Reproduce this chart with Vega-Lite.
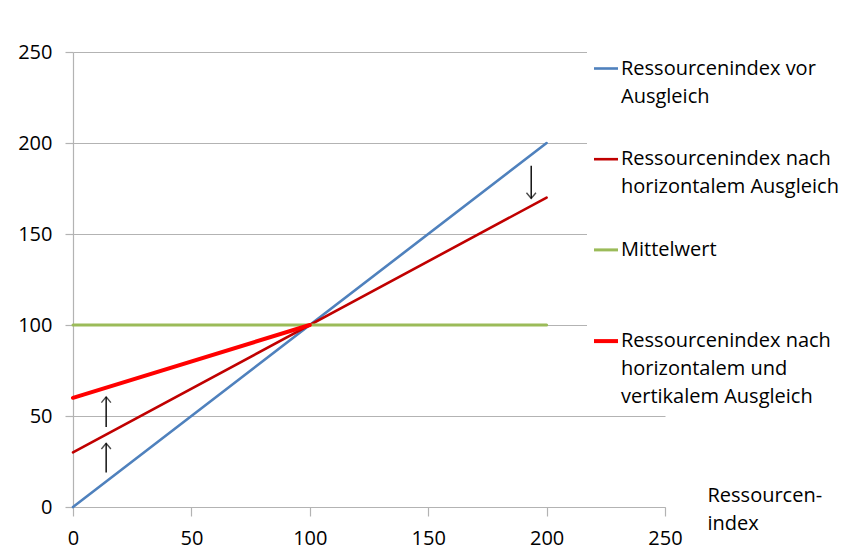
{
  "$schema": "https://vega.github.io/schema/vega-lite/v6.json",
  "width": 592,
  "height": 455,
  "autosize": {"type": "none"},
  "padding": {"left": 73, "top": 52, "right": 187, "bottom": 48},
  "background": "white",
  "config": {
    "view": {"stroke": null},
    "font": "Open Sans",
    "style": {"guide-label": {"lineHeight": 28}, "guide-title": {"lineHeight": 28}}
  },
  "datasets": {
    "linien": [
      {"serie": "Ressourcenindex vor Ausgleich", "x": 0, "y": 0},
      {"serie": "Ressourcenindex vor Ausgleich", "x": 200, "y": 200},
      {"serie": "Ressourcenindex nach horizontalem Ausgleich", "x": 0, "y": 30},
      {"serie": "Ressourcenindex nach horizontalem Ausgleich", "x": 200, "y": 170},
      {"serie": "Mittelwert", "x": 0, "y": 100},
      {"serie": "Mittelwert", "x": 200, "y": 100},
      {"serie": "Ressourcenindex nach horizontalem und vertikalem Ausgleich", "x": 0, "y": 60},
      {"serie": "Ressourcenindex nach horizontalem und vertikalem Ausgleich", "x": 100, "y": 100}
    ],
    "pfeile": [
      {"x": 14, "von": 19, "bis": 35, "richtung": "hoch"},
      {"x": 14, "von": 44, "bis": 60.5, "richtung": "hoch"},
      {"x": 193.5, "von": 187.5, "bis": 169.5, "richtung": "runter"}
    ]
  },
  "layer": [
    {
      "data": {"name": "linien"},
      "mark": {"type": "line", "strokeCap": "round"},
      "encoding": {
        "x": {
          "field": "x", "type": "quantitative",
          "scale": {"domain": [0, 250], "nice": false},
          "axis": {
            "values": [0, 50, 100, 150, 200, 250],
            "grid": false,
            "domainColor": "#b3b3b3", "domainWidth": 1.2,
            "tickColor": "#b3b3b3", "tickSize": 9, "tickWidth": 1.2,
            "labelFont": "Open Sans", "labelFontSize": 20, "labelColor": "black",
            "labelPadding": 12, "labelFlush": false, "labelOverlap": false,
            "title": ["Ressourcen-", "index"],
            "titleFont": "Open Sans", "titleFontSize": 20, "titleFontWeight": "normal",
            "titleColor": "black", "titleAlign": "left", "titleBaseline": "alphabetic",
            "titleX": 634, "titleY": -6, "titleAngle": 0
          }
        },
        "y": {
          "field": "y", "type": "quantitative",
          "scale": {"domain": [0, 250], "nice": false},
          "axis": {
            "values": [0, 50, 100, 150, 200, 250],
            "grid": true, "gridColor": "#b3b3b3", "gridWidth": 1.2,
            "domainColor": "#b3b3b3", "domainWidth": 1.2,
            "tickColor": "#b3b3b3", "tickSize": 8, "tickWidth": 1.2,
            "labelFont": "Open Sans", "labelFontSize": 20, "labelColor": "black",
            "labelPadding": 13, "labelFlush": false, "labelOverlap": false,
            "title": null
          }
        },
        "color": {
          "field": "serie", "type": "nominal",
          "scale": {
            "domain": [
              "Ressourcenindex vor Ausgleich",
              "Ressourcenindex nach horizontalem Ausgleich",
              "Mittelwert",
              "Ressourcenindex nach horizontalem und vertikalem Ausgleich"
            ],
            "range": ["#4F81BD", "#C00000", "#9BBB59", "#FF0000"]
          },
          "legend": {
            "title": null,
            "orient": "none",
            "legendX": 514,
            "legendY": -2,
            "padding": 5,
            "fillColor": "white",
            "strokeColor": null,
            "direction": "vertical",
            "columns": 1,
            "gridAlign": "all",
            "rowPadding": 10.7,
            "symbolType": "stroke",
            "symbolSize": 576,
            "labelOffset": 1,
            "labelFont": "Open Sans",
            "labelFontSize": 20,
            "labelColor": "black",
            "labelLimit": 0,
            "labelBaseline": "middle",
            "labelExpr": "datum.label == 'Ressourcenindex vor Ausgleich' ? ['Ressourcenindex vor', 'Ausgleich'] : datum.label == 'Ressourcenindex nach horizontalem Ausgleich' ? ['Ressourcenindex nach', 'horizontalem Ausgleich'] : datum.label == 'Mittelwert' ? 'Mittelwert' : ['Ressourcenindex nach', 'horizontalem und', 'vertikalem Ausgleich']"
          }
        },
        "strokeWidth": {
          "field": "serie", "type": "ordinal",
          "scale": {
            "type": "ordinal",
            "domain": [
              "Ressourcenindex vor Ausgleich",
              "Ressourcenindex nach horizontalem Ausgleich",
              "Mittelwert",
              "Ressourcenindex nach horizontalem und vertikalem Ausgleich"
            ],
            "range": [2.6, 2.6, 3, 4]
          },
          "legend": null
        },
        "order": {"field": "x", "type": "quantitative"}
      }
    },
    {
      "data": {"name": "pfeile"},
      "mark": {"type": "rule", "color": "black", "strokeWidth": 1.4},
      "encoding": {
        "x": {"field": "x", "type": "quantitative"},
        "y": {"field": "von", "type": "quantitative"},
        "y2": {"field": "bis"}
      }
    },
    {
      "data": {"name": "pfeile"},
      "mark": {"type": "point", "filled": false, "stroke": "black", "strokeWidth": 1.4, "size": 90},
      "encoding": {
        "x": {"field": "x", "type": "quantitative"},
        "y": {"field": "bis", "type": "quantitative"},
        "shape": {
          "field": "richtung", "type": "nominal",
          "scale": {"domain": ["hoch", "runter"], "range": ["M-1,1.2L0,0L1,1.2", "M-1,-1.2L0,0L1,-1.2"]},
          "legend": null
        }
      }
    }
  ]
}
